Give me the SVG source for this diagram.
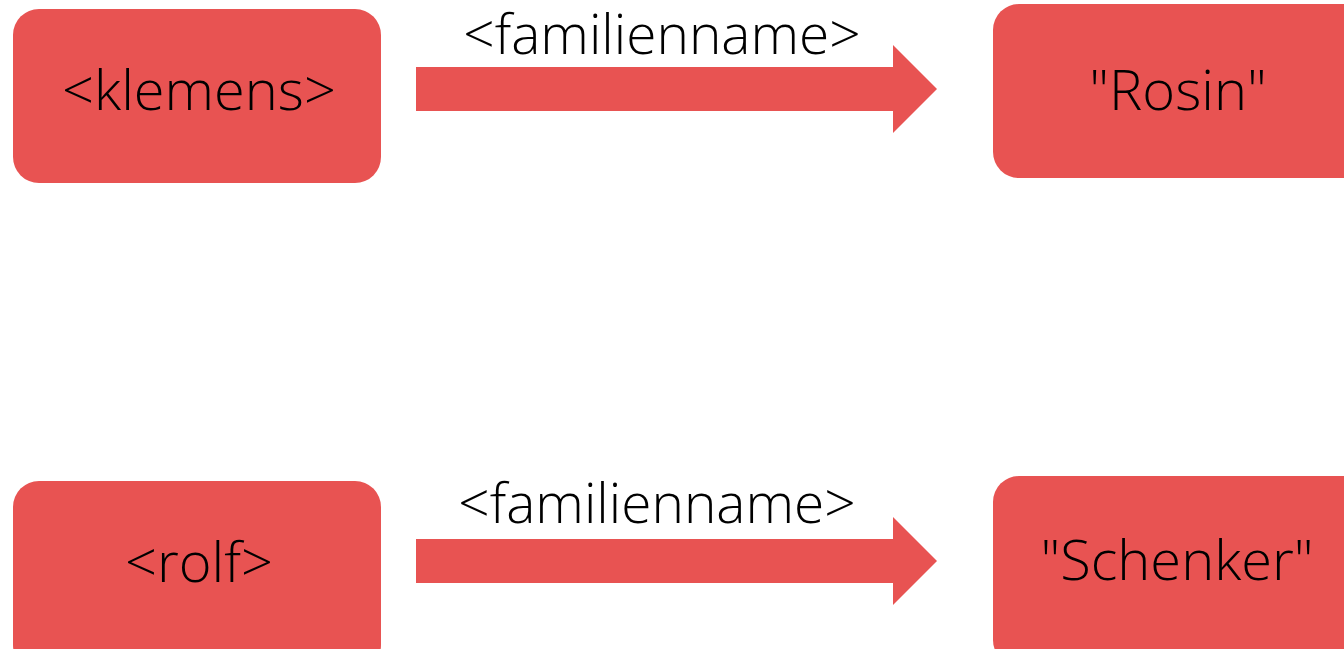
<svg xmlns="http://www.w3.org/2000/svg" width="1344" height="649" viewBox="0 0 1344 649">
<style>
.box{fill:#e85352;}
.arr{fill:#e85352;}
text{font-family:"Open Sans","Liberation Sans",sans-serif;font-weight:300;fill:#000;text-anchor:middle;}
.n{font-size:56px;}
.l{font-size:55px;}
</style>
<rect width="1344" height="649" fill="#fff"/>
<g id="klemens"><rect class="box" x="13" y="9" width="368" height="174" rx="26"/><text class="n" x="199" y="110">&lt;klemens&gt;</text></g>
<g id="rosin"><rect class="box" x="993" y="4" width="380" height="174" rx="26"/><text class="n" x="1178" y="110">"Rosin"</text></g>
<g id="rolf"><rect class="box" x="13" y="481" width="368" height="190" rx="26"/><text class="n" x="199" y="582">&lt;rolf&gt;</text></g>
<g id="schenker"><rect class="box" x="993" y="476" width="380" height="190" rx="26"/><text class="n" x="1177" y="580">"Schenker"</text></g>
<g id="connectors">
<polygon class="arr" points="416,67 893,67 893,45 937,89 893,133 893,111 416,111"/>
<text class="l" x="662" y="54">&lt;familienname&gt;</text>
<polygon class="arr" points="416,539 893,539 893,517 937,561 893,605 893,583 416,583"/>
<text class="l" x="657" y="523">&lt;familienname&gt;</text>
</g>
</svg>
